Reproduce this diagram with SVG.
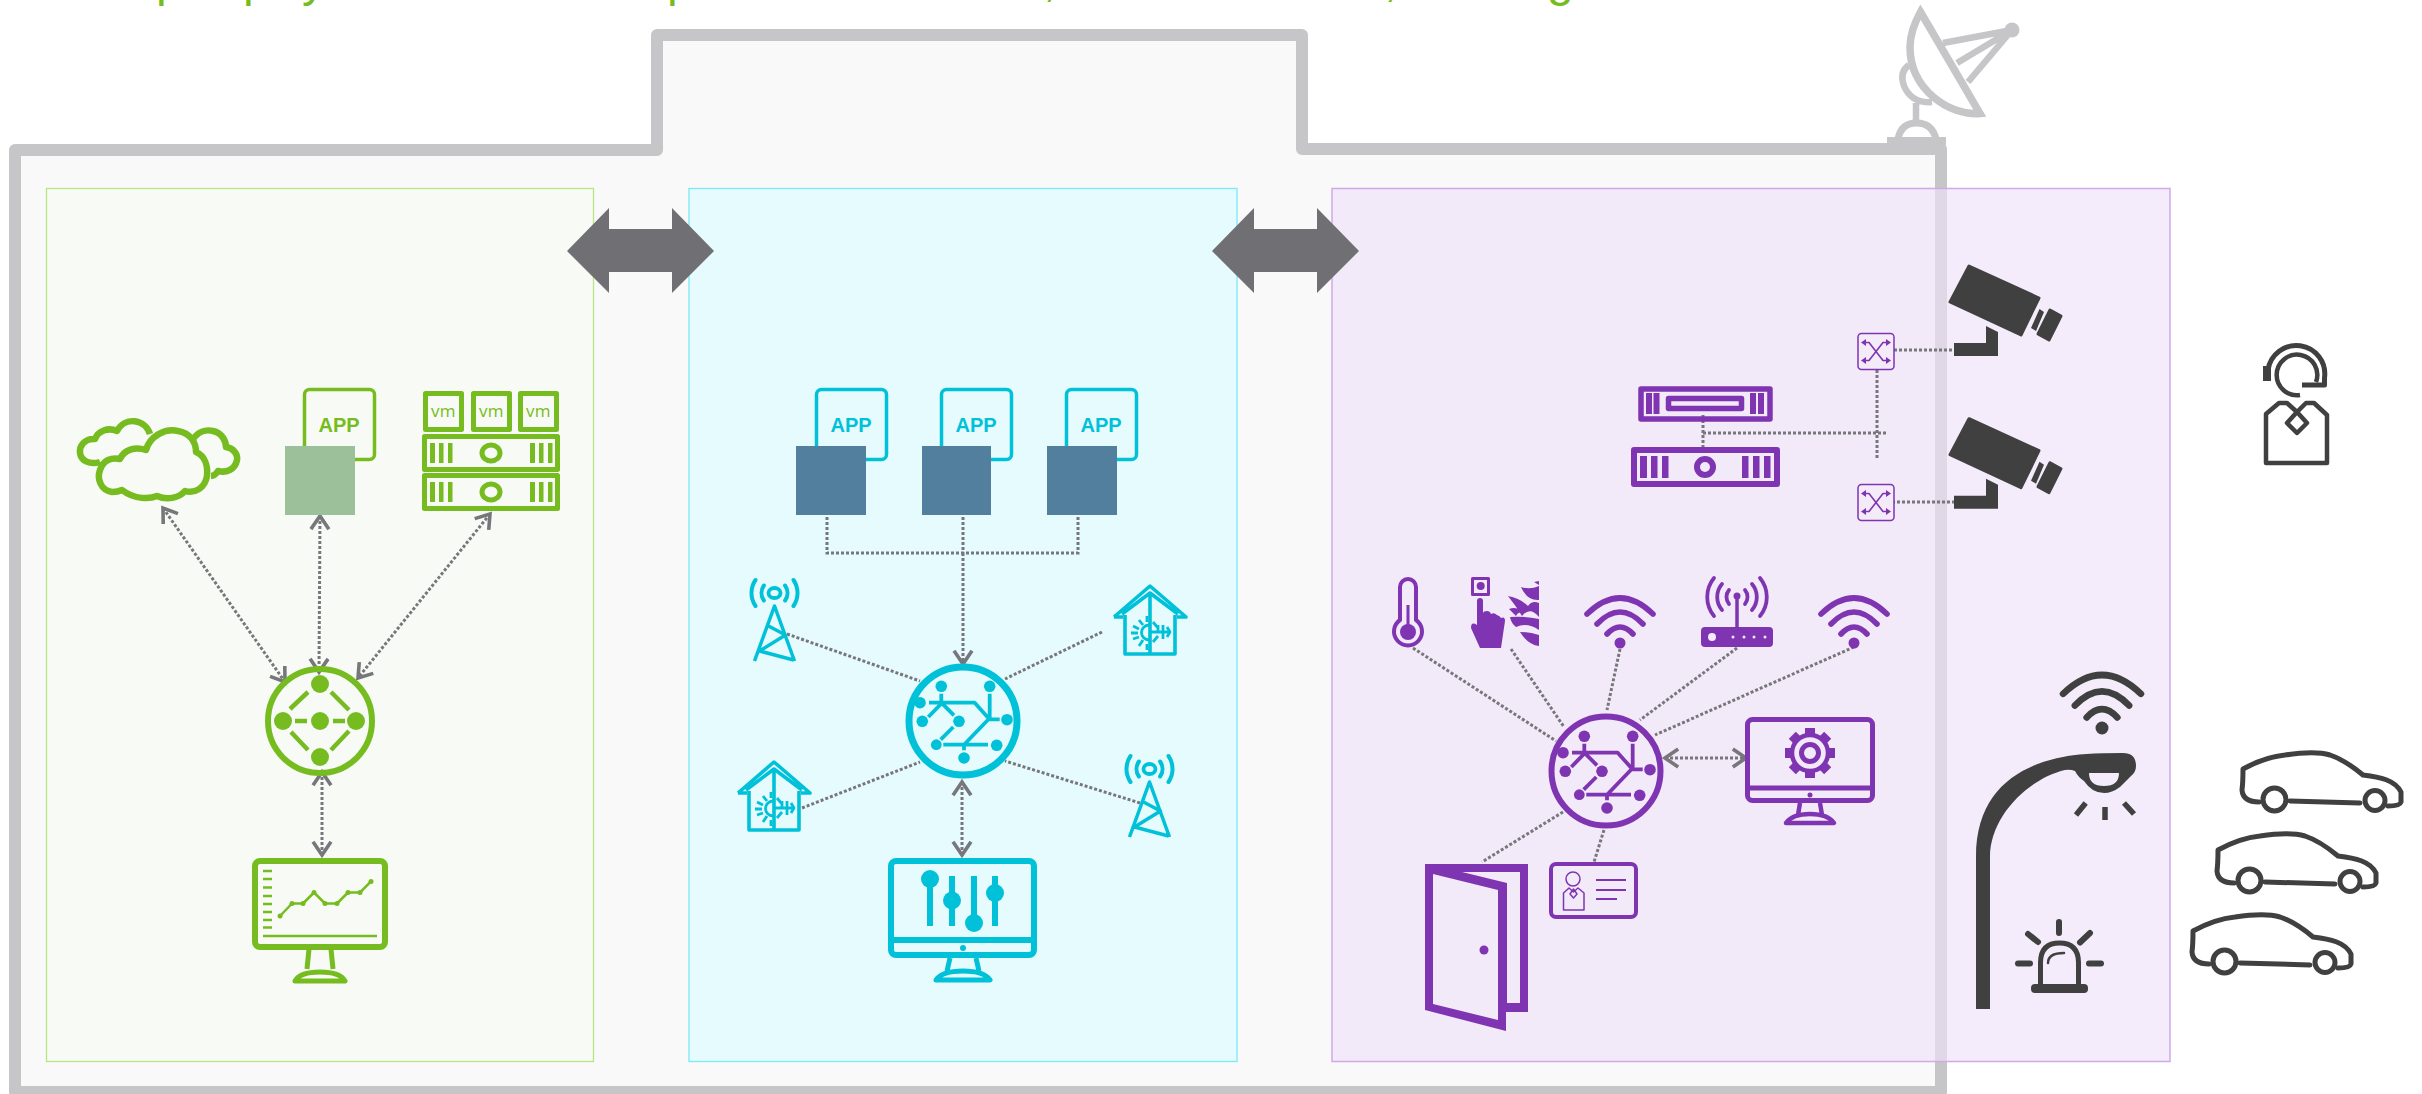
<svg xmlns="http://www.w3.org/2000/svg" width="2422" height="1094" viewBox="0 0 2422 1094">
<style>
.g{color:#76bc21}.b{color:#00c1d8}.p{color:#7f35b2}.d{color:#404040}.a{color:#c6c6c8}
.s{fill:none;stroke:currentColor;stroke-linejoin:round}
.r{stroke-linecap:round}
.f{fill:currentColor}
.dot{fill:none;stroke:#77777b;stroke-width:3;stroke-dasharray:3 2}
.arr{marker-start:url(#ch);marker-end:url(#ch)}
.arr1{marker-end:url(#ch)}
.t{fill:currentColor;text-anchor:middle}
.app{font-family:"Liberation Sans",Arial,sans-serif;font-size:20px;font-weight:700}
.vm{font-family:"Open Sans","Liberation Sans",sans-serif;font-size:17px;font-weight:500;letter-spacing:.5px}
.fat{fill:#706f74}
</style>
<defs>
<marker id="ch" markerUnits="userSpaceOnUse" markerWidth="24" markerHeight="24" refX="14" refY="10" viewBox="0 0 20 20" orient="auto-start-reverse"><path d="M3,2.500 L14,10 L3,17.500" fill="none" stroke="#77777b" stroke-width="3"/></marker>
<g id="wifi"><circle r="5.500" class="f"/><path class="s r" stroke-width="5.600" d="M-13,-9 Q0,-23 13,-9 M-23,-19 Q0,-43 23,-19 M-33,-29 Q0,-61 33,-29"/></g>
<g id="hubi">
<g class="f"><circle cx="-21.700" cy="-34.700" r="5.800"/><circle cx="26.700" cy="-34.700" r="5.800"/><circle cx="-43" cy="-18.300" r="5.800"/><circle cx="-40.700" cy=".3" r="5.800"/><circle cx="-4" cy=".3" r="5.800"/><circle cx="44" cy="-1.300" r="5.800"/><circle cx="-26.700" cy="23.700" r="5.400"/><circle cx="33.700" cy="24.300" r="5.800"/><circle cx="1" cy="37" r="5.800"/></g>
<path class="s" stroke-width="3.800" d="M-34,-18.300 H11.700 L26,-2.300 L1,23.700 M-19.700,23.700 H25 M-21.700,-27.300 V-18.300 L-9,-5.700 M-21.700,-17.300 L-34.700,-4 M-9.700,6 L-22.300,18.700 M26.700,-27.300 V-2.300 M26,-1.700 H36.700 M1,23.700 V29.300"/>
</g>
<g id="appdoc"><rect x="1.500" y="1.500" width="70" height="70" rx="5" class="s" stroke-width="3.500"/><text x="36" y="44" class="t app">APP</text></g>
<g id="tower"><ellipse rx="6" ry="5" class="s" stroke-width="3.800"/><path class="s r" stroke-width="4" d="M-10.600,-7.500 A13,13 0 0 0 -10.600,7.500 M10.600,-7.500 A13,13 0 0 1 10.600,7.500 M-19,-13 A23,23 0 0 0 -19,13 M19,-13 A23,23 0 0 1 19,13"/><path class="s" stroke-width="3.500" d="M-20,68 L0,13 L20,68 M-15,58 L19,67 M-15,58 L11,42 L-6,33"/></g>
<g id="house"><path class="s" stroke-width="3.600" d="M-28,30 L0,9 L28,30 M-36,33 L0,2 L36,33 H27 M-36,33 H-27 M-25,31 V70 H25 V31 M0,9 V70"/><path class="f" d="M-1,40 A8.500,8.500 0 0 0 -1,57 Z" fill-opacity="0"/><path class="s" stroke-width="2.800" d="M-1,41 A7.500,7.500 0 0 0 -1,56 M-11,36 L-7,41 M-17,42 L-11,45 M-19,49 L-12,49 M-17,55 L-11,53 M-11,62 L-7,56 M-3,32 V38 M-3,60 V66 M1,48 H20 M8,41 L8,47 M13,41 L13,55 M17,43 L20,48 L17,53 M3,38 L8,44 M3,58 L8,52"/></g>
<g id="switch"><rect x="-18" y="-18" width="36" height="36" rx="3.500" fill="#f3ebf8" stroke="#7f35b2" stroke-width="1.500"/><path class="s" stroke-width="1.600" d="M-12,-9 H-7 L7,9 H12 M12,-9 H7 L-7,9 H-12"/><path class="f" d="M-15,-9 L-10,-12.500 V-5.500Z M15,-9 L10,-12.500 V-5.500Z M-15,9 L-10,5.500 V12.500Z M15,9 L10,5.500 V12.500Z"/></g>
<g id="camera"><path class="f" stroke="#404040" stroke-linejoin="round" stroke-width="3" d="M1969,266 L2039,298 L2021,335 L1950,302Z"/><path class="f" d="M2039.500,309 L2044,312 L2036,331 L2031,328Z"/><path class="f" stroke="#404040" stroke-linejoin="round" stroke-width="3" d="M2050,310 L2061,316 L2049,340 L2038,334Z"/><path class="f" d="M1954,343 H1986 V326 L1998,332 V356 H1954Z"/></g>
<g id="car"><path class="s r" stroke-width="5" d="M19,50 Q3,50 2,38 Q3,30 3,17 Q25,5 45,3 C65,0 80,0 90,3 Q105,8 123,23 C140,25 155,28 161,40 V50 Q160,54 148,54 M120,51 L50,49"/></g>
<g id="vmbox"><rect x="2.500" y="2.500" width="36" height="36" class="s" stroke-width="5"/><text x="20.500" y="26" class="t vm">vm</text></g>
<g id="gsrv"><rect x="2.500" y="2.500" width="133" height="33" class="s" stroke-width="5"/><path class="f" d="M8,9 h5 v20 h-5z M17,9 h4.500 v20 h-4.500z M26,9 h4.500 v20 h-4.500z M108,9 h5 v20 h-5z M117,9 h4.500 v20 h-4.500z M126,9 h4.500 v20 h-4.500z"/><ellipse cx="69" cy="19" rx="9" ry="8" class="s" stroke-width="5"/></g>
<g id="stand"><path class="s" stroke-width="5" d="M-11,0 L-13,20 M11,0 L13,20 M-25,32 Q-20,23 0,23 Q20,23 25,32 Z"/></g>
</defs>

<rect width="2422" height="1094" fill="#fff"/>
<text x="156 243 302 667 1043 1384 1547" y="-4.500" font-family="Liberation Sans, sans-serif" font-size="48" fill="#76bc21">ppyp,,g</text>

<path id="frame" d="M15,150 H657 V35 H1302 V149 H1941 V1092 H15 Z" fill="#f9f9f9" stroke="#c6c6c8" stroke-width="12" stroke-linejoin="round"/>
<rect id="panel-green" x="46.500" y="188.500" width="547" height="873" fill="#f8fbf5" stroke="#b9e585" stroke-width="1.300"/>
<rect id="panel-blue" x="689" y="188.500" width="548" height="873" fill="#e5fbfe" stroke="#7be9f7" stroke-width="1.300"/>

<g id="dish" class="a">
<path fill="none" stroke="currentColor" stroke-miterlimit="8" stroke-width="7.500" d="M1920.500,12 L1980,113.500 C1950,116 1910,90 1910,47 C1910,35 1915,22 1920.500,12 Z"/>
<path class="s" stroke-width="6.500" d="M1943,43 L2012,30 L1968,82 M1957,63 L2012,30 M1909,65 Q1899,72 1904,86 Q1912,104 1932,102 M1916,103 V122"/>
<circle cx="2012" cy="30" r="7.500" class="f"/>
<path class="s" stroke-width="7" d="M1898,139 Q1901,123 1916.500,123 Q1932,123 1936,139"/>
<rect x="1887" y="137" width="59" height="8" class="f"/>
</g>

<rect id="panel-purple" x="1332" y="188.500" width="838" height="873" fill="#eee2f7" fill-opacity=".65" stroke="#d0a9ea" stroke-width="1.500"/>

<g id="connectors">
<path class="dot arr" d="M163,508 L285,682"/>
<path class="dot arr" d="M320,516 L319,672"/>
<path class="dot arr" d="M490,514 L358,678"/>
<path class="dot arr" d="M322,772 V855"/>
<path class="dot" d="M827,517 V553 H1078 V517 M963,517 V553"/>
<path class="dot arr1" d="M963,553 V664"/>
<path class="dot" d="M787,634 L920,681 M1102,632 L1005,679 M802,808 L920,762 M1140,803 L1005,761"/>
<path class="dot arr" d="M962,782 V855"/>
<path class="dot" d="M1413,648 L1556,741 M1511,649 L1564,727 M1620,649 L1607,710 M1737,648 L1640,720 M1854,647 L1655,735 M1563,812 L1482,862 M1604,830 L1594,862"/>
<path class="dot arr" d="M1665,758 H1746"/>
<path class="dot" d="M1703,415 V453 M1703,433 H1887 M1877,370 V458 M1894,350 H1954 M1892,502 H1954"/>
</g>

<g id="fat-arrows">
<path class="fat" d="M567,251 L609,208 V229 H672 V208 L714,251 L672,293 V272 H609 V293Z"/>
<path class="fat" d="M1212,251 L1254,208 V229 H1317 V208 L1359,251 L1317,293 V272 H1254 V293Z"/>
</g>

<g id="g-cloud" class="g"><path class="s" stroke-width="6.500" d="M112,492 C100,490 97,478 100,470 C103,460 112,457 120,459 C124,450 135,446 146,450 C150,436 165,428 178,431 C190,433 196,442 196,452 C205,456 208,466 207,476 C205,488 195,494 185,491 C180,497 168,501 157,496 C150,499 135,500 122,490 C118,492 115,492 112,492 Z"/><path class="s" stroke-width="6.500" d="M150,434 C145,419 125,416 117,431 C108,427 98,431 95,439 C84,438 79,447 80,453 C81,461 90,465 100,462 M192,441 C197,432 205,429 213,431 C222,433 226,441 226,447 C234,448 238,455 237,460 C235,470 226,473 218,471 C216,474 213,476 211,476"/></g>
<g id="g-app" class="g"><use href="#appdoc" x="303" y="388"/><rect x="285" y="446" width="70" height="69" fill="#9cc09a"/></g>
<g id="g-vms" class="g"><use href="#vmbox" x="423" y="391"/><use href="#vmbox" x="471" y="391"/><use href="#vmbox" x="518" y="391"/><use href="#gsrv" x="422" y="434"/><use href="#gsrv" x="422" y="473"/></g>
<g id="g-hub" class="g"><circle cx="320" cy="721" r="52" class="s" stroke-width="6"/><g class="f"><circle cx="320" cy="684" r="9"/><circle cx="320" cy="721" r="9"/><circle cx="320" cy="757" r="9"/><circle cx="283" cy="721" r="9"/><circle cx="356" cy="721" r="9"/></g><path class="s" stroke-width="4.500" d="M290,709 L308,692 M331,692 L349,710 M291,732 L308,750 M331,750 L349,731 M295,721 H307 M333,721 H345"/></g>
<g id="g-monitor" class="g"><rect x="255" y="861" width="130" height="86" rx="5" class="s" stroke-width="6"/><path class="s" stroke-width="2.500" d="M263,871 h9 M263,879 h9 M263,887.500 h9 M263,896 h9 M263,904 h9 M263,912 h9 M263,920 h9 M263,927.500 h9 M263,936 H377 M280,916 L292,903.500 H303 L314,892.500 L325,903.500 H337 L348,892.500 H360 L371,881.400"/><g class="f"><circle cx="280" cy="916" r="2.500"/><circle cx="292" cy="903.500" r="2.500"/><circle cx="303" cy="903.500" r="2.500"/><circle cx="314" cy="892.500" r="2.500"/><circle cx="325" cy="903.500" r="2.500"/><circle cx="337" cy="903.500" r="2.500"/><circle cx="348" cy="892.500" r="2.500"/><circle cx="360" cy="892.500" r="2.500"/><circle cx="371" cy="881.400" r="2.500"/></g><use href="#stand" x="320" y="949"/></g>

<g id="b-app1" class="b"><use href="#appdoc" x="815" y="388"/><rect x="796" y="446" width="70" height="69" fill="#527f9e"/></g>
<g id="b-app2" class="b"><use href="#appdoc" x="940" y="388"/><rect x="922" y="446" width="69" height="69" fill="#527f9e"/></g>
<g id="b-app3" class="b"><use href="#appdoc" x="1065" y="388"/><rect x="1047" y="446" width="70" height="69" fill="#527f9e"/></g>
<g id="b-tower1" class="b"><use href="#tower" x="774.500" y="593"/></g>
<g id="b-tower2" class="b"><use href="#tower" x="1149.500" y="769"/></g>
<g id="b-house1" class="b"><use href="#house" x="1150" y="584"/></g>
<g id="b-house2" class="b"><use href="#house" x="774" y="760"/></g>
<g id="b-hub" class="b"><circle cx="963" cy="721" r="54" class="s" stroke-width="7"/><use href="#hubi" x="963" y="721"/></g>
<g id="b-monitor" class="b"><rect x="891" y="861" width="143" height="94" rx="5" class="s" stroke-width="6"/><path class="s" stroke-width="6" d="M891,940 H1034 M930,880 V926 M952,876 V926 M974,876 V924 M995,876 V926"/><g class="f"><circle cx="930" cy="879" r="9"/><circle cx="952" cy="900.500" r="9"/><circle cx="974" cy="923" r="9"/><circle cx="995" cy="893" r="9"/><circle cx="963" cy="948" r="3"/></g><path class="s" stroke-width="5" d="M950,958 L947,971 M976,958 L979,971 M936,980 Q942,971 963,971 Q984,971 990,980 Z"/></g>

<g id="p-srv1" class="p"><rect x="1641" y="389" width="129" height="30" class="s" stroke-width="5.500"/><rect x="1668.500" y="398.500" width="73" height="10" class="s" stroke-width="5.500"/><path class="f" d="M1646,393 h6 v21 h-6z M1653.500,393 h6 v21 h-6z M1750,393 h6 v21 h-6z M1758,393 h6 v21 h-6z"/></g>
<g id="p-srv2" class="p"><rect x="1634" y="450" width="143" height="34" class="s" stroke-width="6"/><path class="f" d="M1640,456 h7 v22 h-7z M1651,456 h6.500 v22 h-6.500z M1662,456 h6.500 v22 h-6.500z M1742,456 h6.500 v22 h-6.500z M1753,456 h6.500 v22 h-6.500z M1764,456 h6.500 v22 h-6.500z"/><circle cx="1705" cy="467" r="8" class="s" stroke-width="6"/></g>
<g id="p-sw1" class="p"><use href="#switch" x="1876" y="351.500"/></g>
<g id="p-sw2" class="p"><use href="#switch" x="1876" y="502.500"/></g>
<g id="p-therm" class="p"><path class="s" stroke-width="4" d="M1400,620 V587 a8,8 0 0 1 16,0 V620 a14,14 0 1 1 -16,0 Z"/><circle cx="1408" cy="632" r="8" class="f"/><path class="s" stroke-width="3" d="M1408,605 V630"/></g>
<g id="p-hand" class="p"><rect x="1472.500" y="578.500" width="16" height="16" class="s" stroke-width="3"/><circle cx="1480.700" cy="586" r="4" class="f"/><path class="f" d="M1477,601 Q1477,598 1480,598 Q1483,598 1483,601 V613 Q1483.500,611 1487,611 Q1490,611 1491,614 Q1494,612 1497,615 Q1500,616 1501,618 Q1505,616 1505,621 L1501,648 H1480 L1471,628 Q1471,621 1477,625Z"/><path class="f" d="M1534,582 L1539,581 V585Z M1521,587 Q1530,590 1539,586 V600 Q1527,601 1521,587Z M1508,596 Q1520,598 1528,606 Q1532,600 1539,603 V617 Q1530,606 1522,616 Q1516,606 1508,596Z M1509,609 Q1517,606 1521,612 Q1517,613 1516,616 Q1512,612 1509,609Z M1510,617 Q1525,616 1539,619 V630 Q1527,622 1516,627 Q1511,623 1510,617Z M1520,632 Q1530,632 1539,635 V646 Q1528,645 1520,632Z M1535,621 H1539 V624Z"/></g>
<g id="p-wifi1" class="p"><use href="#wifi" x="1620" y="643"/></g>
<g id="p-router" class="p"><rect x="1701" y="627" width="72" height="20" rx="4" class="f"/><path class="s" stroke-width="3.500" d="M1737,596 V627"/><circle cx="1737" cy="596" r="3.500" class="f"/><path class="s r" stroke-width="3.800" d="M1714,578 A30,30 0 0 0 1714,616 M1760,578 A30,30 0 0 1 1760,616 M1722,584 A20,20 0 0 0 1722,610 M1752,584 A20,20 0 0 1 1752,610 M1729,590 A11,11 0 0 0 1729,604 M1745,590 A11,11 0 0 1 1745,604"/><g fill="#f3ebf9"><circle cx="1712" cy="637" r="4"/><circle cx="1733" cy="637" r="1.500"/><circle cx="1744" cy="637" r="1.500"/><circle cx="1754" cy="637" r="1.500"/><circle cx="1765" cy="637" r="1.500"/></g></g>
<g id="p-wifi2" class="p"><use href="#wifi" x="1854" y="643"/></g>
<g id="p-hub" class="p"><circle cx="1606" cy="771" r="54.500" class="s" stroke-width="6"/><use href="#hubi" x="1606" y="771"/></g>
<g id="p-monitor" class="p"><rect x="1747.500" y="719.500" width="125" height="81" rx="5" class="s" stroke-width="5"/><path class="s" stroke-width="5" d="M1748,788 H1872"/><circle cx="1810" cy="795" r="2.500" class="f"/><circle cx="1810" cy="753" r="8.500" class="s" stroke-width="5"/><circle cx="1810" cy="753" r="18" class="s" stroke-width="4.500"/><g class="f" transform="translate(1810,753)"><rect x="-5" y="-25" width="10" height="8"/><rect x="-5" y="-25" width="10" height="8" transform="rotate(45)"/><rect x="-5" y="-25" width="10" height="8" transform="rotate(90)"/><rect x="-5" y="-25" width="10" height="8" transform="rotate(135)"/><rect x="-5" y="-25" width="10" height="8" transform="rotate(180)"/><rect x="-5" y="-25" width="10" height="8" transform="rotate(225)"/><rect x="-5" y="-25" width="10" height="8" transform="rotate(270)"/><rect x="-5" y="-25" width="10" height="8" transform="rotate(315)"/></g><path class="s" stroke-width="4.500" d="M1800,803 L1798,815 M1820,803 L1822,815 M1786,823 Q1792,814 1810,814 Q1828,814 1834,823 Z"/></g>
<g id="p-door" class="p"><path class="f" fill-rule="evenodd" d="M1425,864 H1528 V1012 H1506 V1031 L1425,1010 Z M1433,874 L1498,890 V1020 L1433,1004 Z M1462,872 H1520 V1003 H1507 V883 Z"/><circle cx="1484" cy="950" r="4.500" class="f"/></g>
<g id="p-card" class="p"><rect x="1551" y="864" width="85" height="53" rx="5" class="s" stroke-width="4"/><circle cx="1573" cy="879" r="7" class="s" stroke-width="1.500"/><path class="s" stroke-width="1.500" d="M1563.500,910 V893 L1569,888 L1573.500,892 L1578,888 L1584,893 V910 Z M1573.500,889 L1577,894 L1573.500,898 L1570,894Z"/><path class="s" stroke-width="2" d="M1596,880 H1626 M1596,890 H1626 M1596,899 H1617"/></g>

<g id="d-cam1" class="d"><use href="#camera"/></g>
<g id="d-cam2" class="d"><use href="#camera" y="152.700"/></g>
<g id="d-wifi" class="d"><use href="#wifi" transform="translate(2102,728) scale(1.180)"/></g>
<g id="d-lamp" class="d"><path class="f" fill-rule="evenodd" d="M1976,1009 V857 C1976,790 2020,765 2063,757 Q2080,753 2123,753 Q2136,753 2136,766 Q2136,772 2131,776 L2120,787 Q2112,793 2104,793 Q2092,793 2084,781 Q2078,777 2075,771 Q2070,769 2065,770 C2030,778 1990,815 1990,857 V1009 Z M2089,773 H2119 Q2119,786 2104,786 Q2089,786 2089,773 Z"/><path class="s" stroke-width="5.500" d="M2085.700,803 L2076,815 M2105,807 V820 M2124,803 L2134,814"/></g>
<g id="d-alarm" class="d"><path class="s" stroke-width="5" d="M2040.500,985 V962 Q2041,943 2059.500,943 Q2078,943 2078.500,962 V985"/><rect x="2031" y="984" width="57" height="9" rx="4" class="f"/><path class="s r" stroke-width="2.500" d="M2048,963 Q2048,953 2064,953"/><path class="s r" stroke-width="6" d="M2059,922 V933 M2028,934 L2038,942 M2090,933 L2080,942.500 M2018,963.500 H2030 M2089,963.500 H2101"/></g>
<g id="d-car1" class="d"><use href="#car" x="2240" y="752"/><circle cx="2274.500" cy="799.500" r="11.500" class="s" stroke-width="5"/><circle cx="2375" cy="800.500" r="10" class="s" stroke-width="5"/></g>
<g id="d-car2" class="d"><use href="#car" x="2215" y="833"/><circle cx="2249.500" cy="880.500" r="11.500" class="s" stroke-width="5"/><circle cx="2350" cy="881.500" r="10" class="s" stroke-width="5"/></g>
<g id="d-car3" class="d"><use href="#car" x="2190" y="914"/><circle cx="2224.500" cy="961.500" r="11.500" class="s" stroke-width="5"/><circle cx="2325" cy="962.500" r="10" class="s" stroke-width="5"/></g>
<g id="d-agent" class="d"><path class="s" stroke-width="5" d="M2268,370 A28.500,28.500 0 0 1 2324.500,378 V385 H2302"/><rect x="2263" y="366" width="8" height="15" class="f"/><path class="s" stroke-width="4.500" d="M2316,382 A20.300,20.300 0 1 0 2300,395"/><path class="s" stroke-width="4.500" d="M2266,414 L2279,403 H2287 L2297,412 L2306,403 H2314 L2327,415 V463 H2266 Z M2297,412 L2307,423 L2297,433 L2287,423Z"/></g>
</svg>
